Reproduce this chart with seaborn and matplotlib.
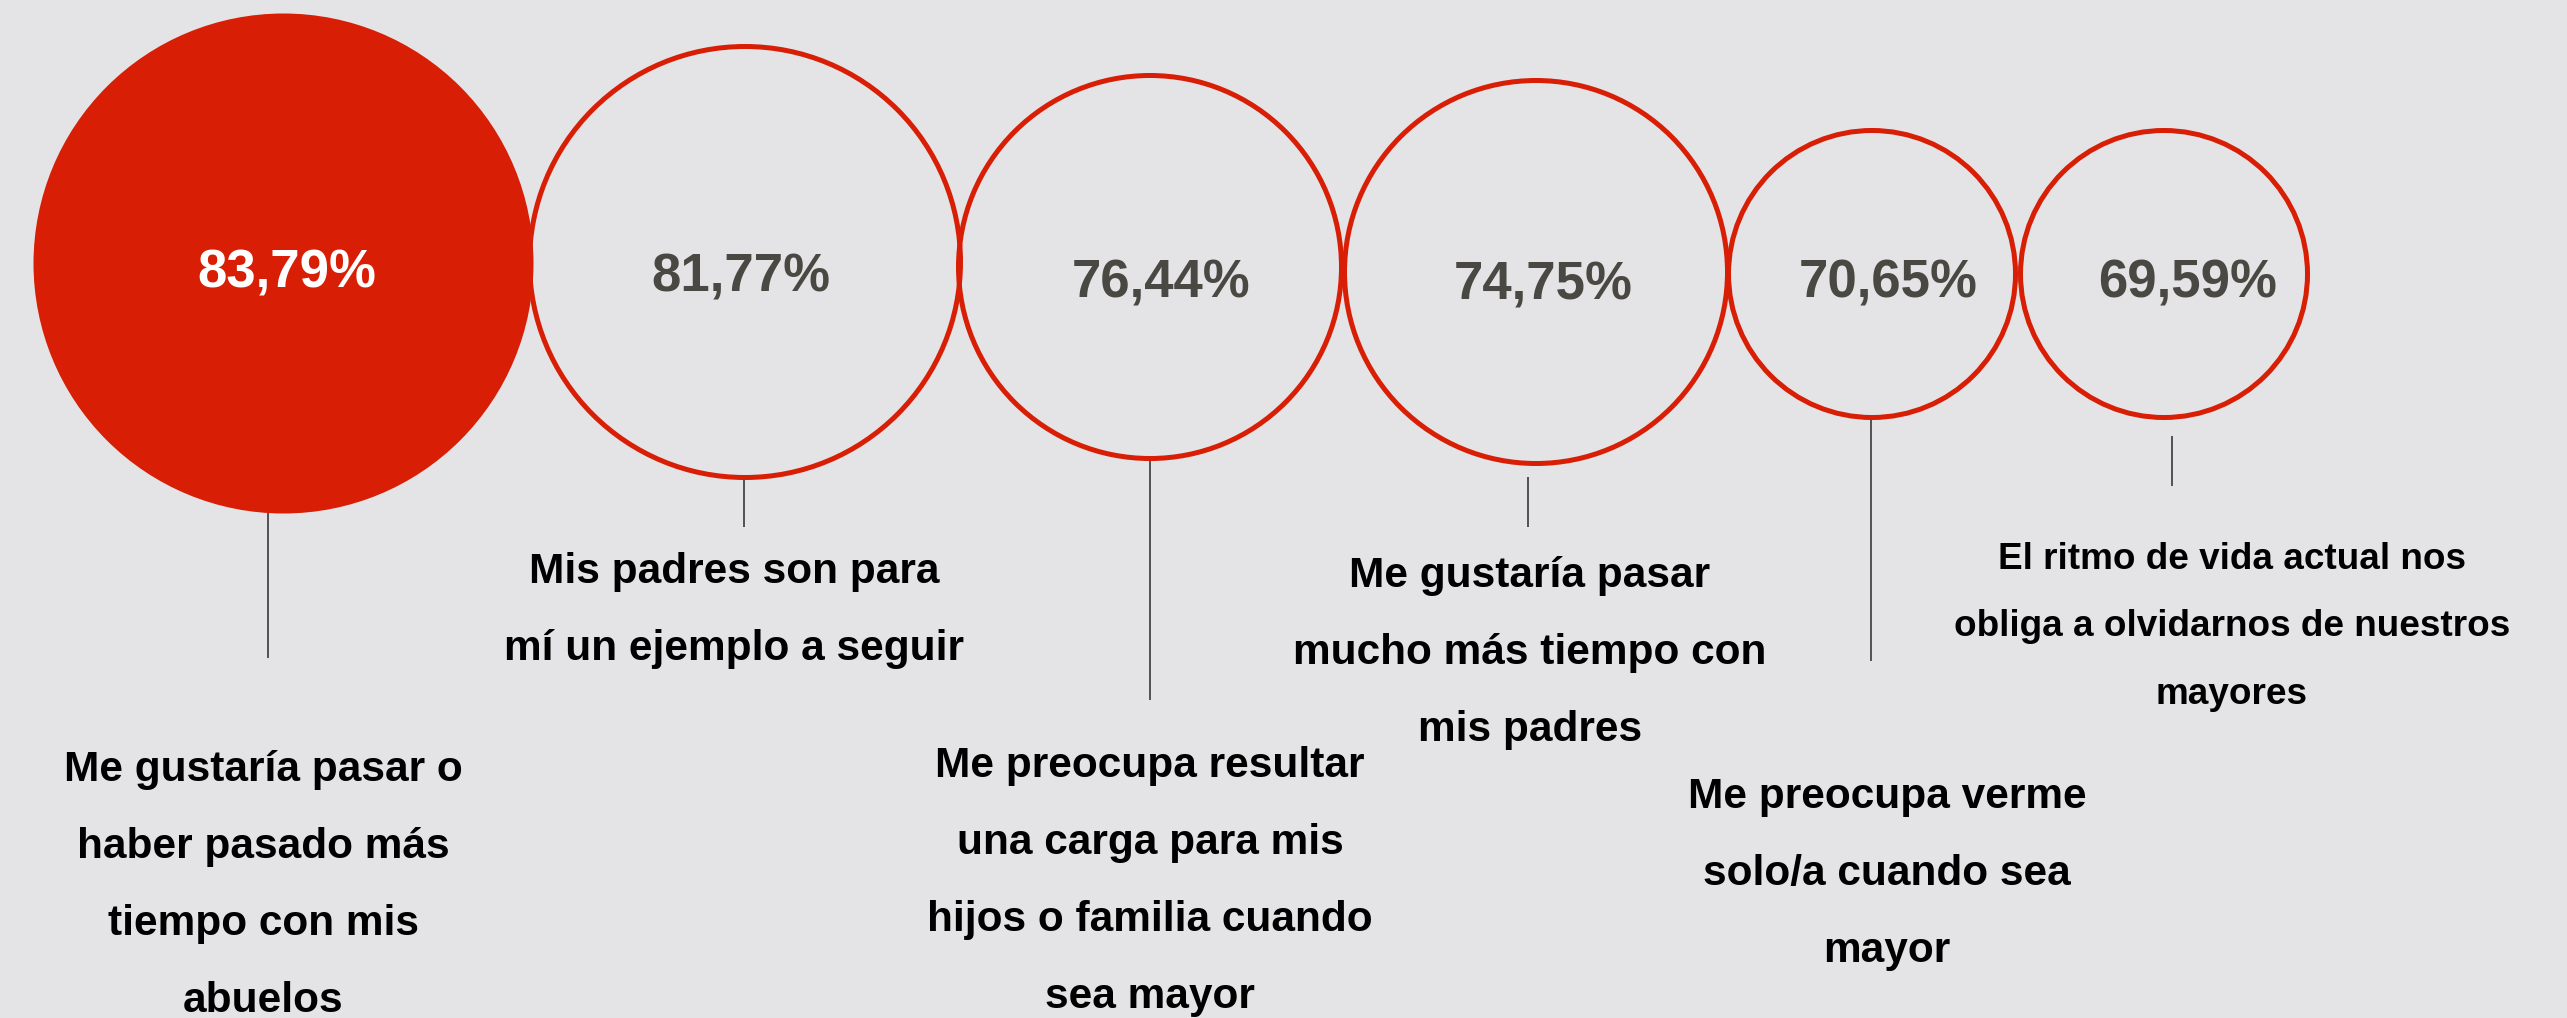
import matplotlib
matplotlib.use("Agg")
import matplotlib.pyplot as plt
import seaborn as sns
import pandas as pd

# ---------------- data ----------------
categories = [
    "Me gustaría pasar o haber pasado más tiempo con mis abuelos",
    "Mis padres son para mí un ejemplo a seguir",
    "Me preocupa resultar una carga para mis hijos o familia cuando sea mayor",
    "Me gustaría pasar mucho más tiempo con mis padres",
    "Me preocupa verme solo/a cuando sea mayor",
    "El ritmo de vida actual nos obliga a olvidarnos de nuestros mayores",
]
values = [83.79, 81.77, 76.44, 74.75, 70.65, 69.59]
label_lines = [
    ["Me gustaría pasar o", "haber pasado más", "tiempo con mis", "abuelos"],
    ["Mis padres son para", "mí un ejemplo a seguir"],
    ["Me preocupa resultar", "una carga para mis", "hijos o familia cuando", "sea mayor"],
    ["Me gustaría pasar", "mucho más tiempo con", "mis padres"],
    ["Me preocupa verme", "solo/a cuando sea", "mayor"],
    ["El ritmo de vida actual nos", "obliga a olvidarnos de nuestros", "mayores"],
]

# ---------------- layout / style ----------------
W, H = 2567, 1018
BG = "#e4e4e6"
RED = "#d81e05"
DARK = "#4a4843"

circle_cx = [283, 745, 1150, 1536, 1872, 2164]
circle_cy = [263, 262, 267, 272, 274, 274]
circle_r = [250, 218, 194, 194, 146, 146]      # outer radius in px
edge_px = 5

pct_x = [287, 741, 1161, 1543, 1888, 2188]
pct_base = [287, 292, 298, 299, 298, 298]

conn_x = [268, 744, 1150, 1528, 1871, 2172]
conn_y0 = [513, 477, 460, 477, 419, 436]
conn_y1 = [658, 527, 700, 527, 661, 486]

lab_x = [263, 734, 1150, 1530, 1887, 2232]
lab_base0 = [781, 583, 777, 587, 808, 569]
lab_step = [77, 77, 77, 77, 77, 67.5]
lab_size = [30.5, 30.5, 30.5, 30.5, 30.5, 26.6]

sns.set_theme(style="white")
plt.rcParams["font.family"] = ["Liberation Sans", "DejaVu Sans"]

fig = plt.figure(figsize=(W / 100, H / 100), dpi=100, facecolor=BG)
ax = fig.add_axes([0, 0, 1, 1])
ax.set_facecolor(BG)
ax.set_xlim(0, W)
ax.set_ylim(H, 0)
ax.set_axis_off()

df = pd.DataFrame({
    "cat": categories,
    "value": values,
    "x": circle_cx,
    "y": circle_cy,
})
px2pt = 72 / 100
sizes = {c: (2 * (r - edge_px / 2) * px2pt) ** 2 for c, r in zip(categories, circle_r)}
fills = [RED] + ["none"] * (len(categories) - 1)

for i, row in df.iterrows():
    sns.scatterplot(
        data=df.iloc[[i]], x="x", y="y", size="cat", sizes=sizes,
        ax=ax, legend=False, marker="o",
        facecolor=fills[i], edgecolor=RED, linewidth=edge_px * px2pt,
        zorder=2,
    )

# connector lines
ax.vlines(conn_x, conn_y0, conn_y1, colors="#555555", linewidth=2 * px2pt, zorder=1)

# percentages
for i, v in enumerate(values):
    txt = f"{v:.2f}".replace(".", ",") + "%"
    ax.text(pct_x[i], pct_base[i], txt, ha="center", va="baseline",
            fontsize=38, fontweight="bold",
            color="white" if i == 0 else DARK, zorder=3)

# labels
for i, lines in enumerate(label_lines):
    for j, line in enumerate(lines):
        ax.text(lab_x[i], lab_base0[i] + j * lab_step[i], line,
                ha="center", va="baseline", fontsize=lab_size[i],
                fontweight="bold", color="#000000", zorder=3)

fig.savefig("out.png", dpi=100, facecolor=BG)
